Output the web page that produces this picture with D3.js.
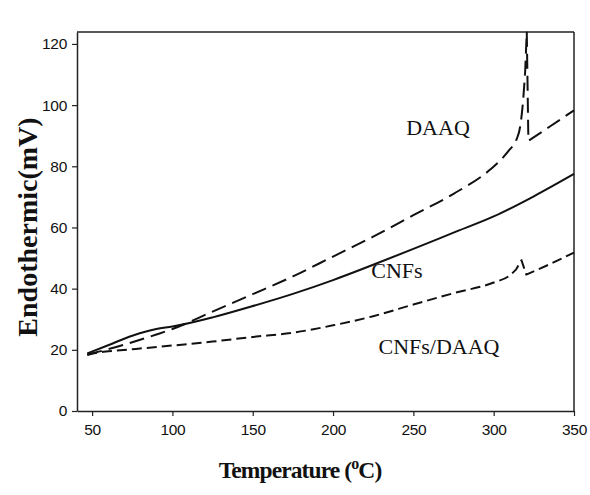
<!DOCTYPE html>
<html>
<head>
<meta charset="utf-8">
<script src="https://cdn.jsdelivr.net/npm/d3@7"></script>
<style>
  html, body { margin: 0; padding: 0; background: #fff; }
  svg { display: block; }
</style>
</head>
<body>
<svg id="chart" width="590" height="495"></svg>
<script>
// ---- data ----
const xTicks = [50, 100, 150, 200, 250, 300, 350];
const yTicks = [0, 20, 40, 60, 80, 100, 120];

const cnfsT = [47, 60, 75, 90, 100, 125, 150, 175, 200, 225, 250, 275, 300, 325, 350];
const cnfsV = [18.8, 21.5, 24.6, 26.8, 27.6, 30.6, 34.3, 38.3, 42.8, 47.8, 53, 58.3, 63.6, 70.2, 77.5];

const daaqT = [47, 60, 75, 90, 100, 125, 150, 175, 200, 225, 250, 275, 298, 306, 310, 314, 316.5, 318.4, 319.6, 320.6, 321.6, 335, 350];
const daaqV = [18.5, 20.2, 22.5, 25, 26.8, 32.5, 38.2, 44, 50.5, 57, 64, 71, 79, 83, 85.5, 88.5, 93, 102, 111, 124, 88.3, 93, 98.3];

const mixT = [47, 55, 60, 75, 100, 125, 150, 175, 200, 225, 250, 275, 300, 310, 314, 317.3, 320.3, 335, 350];
const mixV = [18.3, 19.2, 19.5, 20.2, 21.4, 22.7, 24.2, 25.6, 28, 31, 34.8, 38.5, 42, 44.3, 46.3, 49.3, 44.6, 48, 51.8];

const seriesNames = ["DAAQ", "CNFs", "CNFs/DAAQ"];

// ---- layout ----
const svg = d3.select("#chart");
const mLeft = 77, mRight = 574, mTop = 32, mBottom = 411;

const x = d3.scaleLinear().domain([40.6, 350]).range([mLeft, mRight]);
const y = d3.scaleLinear().domain([0, 123.9]).range([mBottom, mTop]);

// frame (top and right)
svg.append("line").attr("x1", mLeft).attr("x2", mRight).attr("y1", mTop).attr("y2", mTop)
  .attr("stroke", "#222").attr("stroke-width", 1.5);
svg.append("line").attr("x1", mRight).attr("x2", mRight).attr("y1", mTop).attr("y2", mBottom)
  .attr("stroke", "#222").attr("stroke-width", 1.5);

// axes
const xAxis = svg.append("g").attr("transform", `translate(0,${mBottom})`)
  .call(d3.axisBottom(x).tickValues(xTicks).tickSize(5).tickSizeOuter(0).tickPadding(8));
const yAxis = svg.append("g").attr("transform", `translate(${mLeft},0)`)
  .call(d3.axisLeft(y).tickValues(yTicks).tickSize(5).tickSizeOuter(0).tickPadding(5));

[xAxis, yAxis].forEach(g => {
  g.select(".domain").attr("stroke", "#222").attr("stroke-width", 1.5);
  g.selectAll(".tick line").attr("stroke", "#222").attr("stroke-width", 1.2);
  g.selectAll(".tick text").attr("font-family", "'Liberation Sans', Arial, sans-serif")
    .attr("font-size", 15.5).attr("letter-spacing", -0.3).attr("fill", "#111");
});

// lines: smooth up to the spike, straight segments through the sharp spike
const smooth = d3.line().curve(d3.curveMonotoneX).x(d => x(d[0])).y(d => y(d[1]));
const straight = d3.line().x(d => x(d[0])).y(d => y(d[1]));
function draw(T, V, dash, spikeFrom) {
  const pts = T.map((t, i) => [t, V[i]]);
  let d;
  if (spikeFrom == null) {
    d = smooth(pts);
  } else {
    const k = T.findIndex(t => t >= spikeFrom);
    const a = smooth(pts.slice(0, k + 1));
    const b = straight(pts.slice(k)).replace(/^M/, "L");
    d = a + b;
  }
  svg.append("path")
    .attr("d", d)
    .attr("fill", "none")
    .attr("stroke", "#111")
    .attr("stroke-width", 2)
    .attr("stroke-linejoin", "round")
    .attr("stroke-dasharray", dash);
}
draw(cnfsT, cnfsV, null, null);
draw(daaqT, daaqV, "15,7", 319.6);
draw(mixT, mixV, "10,5", 314);

// series labels
const lab = svg.append("g").attr("font-family", "'Liberation Serif', 'Times New Roman', serif")
  .attr("font-size", 22).attr("fill", "#111").attr("text-anchor", "middle");
lab.append("text").attr("x", 438).attr("y", 135).text(seriesNames[0]);
lab.append("text").attr("x", 397).attr("y", 278).text(seriesNames[1]);
lab.append("text").attr("x", 439).attr("y", 354).text(seriesNames[2]);

// axis titles
svg.append("text")
  .attr("transform", "translate(37,227) rotate(-90)")
  .attr("text-anchor", "middle")
  .attr("font-family", "'Liberation Serif', 'Times New Roman', serif")
  .attr("font-weight", "bold").attr("font-size", 28).attr("fill", "#111")
  .text("Endothermic(mV)");

const xt = svg.append("text")
  .attr("x", 300).attr("y", 478)
  .attr("text-anchor", "middle")
  .attr("font-family", "'Liberation Serif', 'Times New Roman', serif")
  .attr("font-weight", "bold").attr("font-size", 23.5).attr("fill", "#111")
  .attr("letter-spacing", -0.9);
xt.append("tspan").text("Temperature (");
xt.append("tspan").attr("font-size", 16).attr("dy", -9).text("o");
xt.append("tspan").attr("dy", 9).text("C)");
</script>
</body>
</html>
